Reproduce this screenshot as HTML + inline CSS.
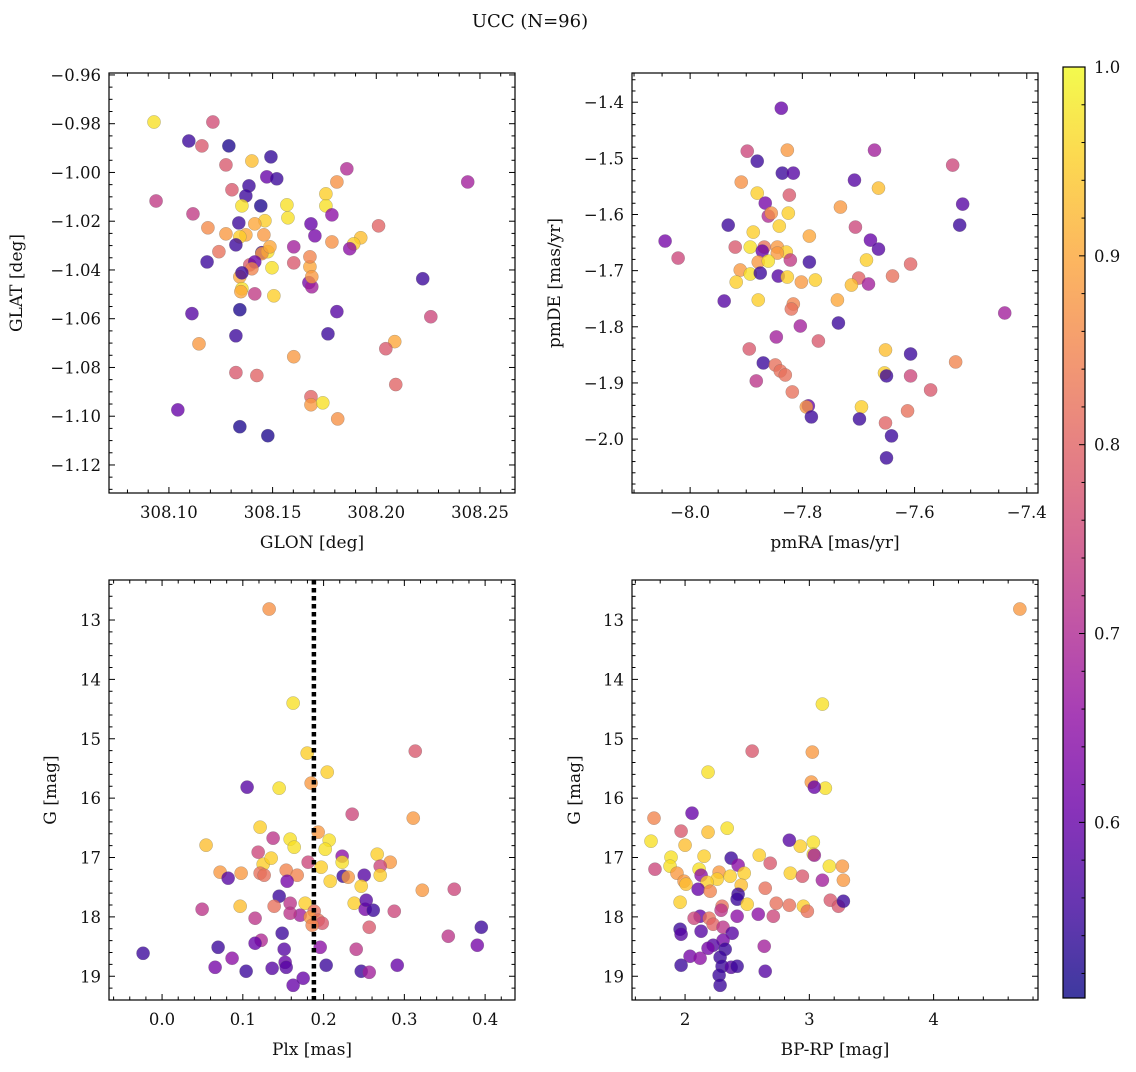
<!DOCTYPE html>
<html><head><meta charset="utf-8">
<style>
html,body{margin:0;padding:0;background:#fff;}
svg text{font-family:"DejaVu Serif","Liberation Serif",serif;fill:#111;}
</style></head>
<body>
<svg id="fig" width="1136" height="1067" xmlns="http://www.w3.org/2000/svg">
<defs>
<linearGradient id="plasma" x1="0" y1="1" x2="0" y2="0">
<stop offset="0" stop-color="#0d0887"/><stop offset="0.1" stop-color="#41049d"/><stop offset="0.2" stop-color="#6a00a8"/><stop offset="0.3" stop-color="#8f0da4"/><stop offset="0.4" stop-color="#b12a90"/><stop offset="0.5" stop-color="#cc4778"/><stop offset="0.6" stop-color="#e16462"/><stop offset="0.7" stop-color="#f2844b"/><stop offset="0.8" stop-color="#fca636"/><stop offset="0.9" stop-color="#fcce25"/><stop offset="1" stop-color="#f0f921"/>
</linearGradient>
</defs>
<text x="530" y="27" font-size="18" text-anchor="middle">UCC (N=96)</text>
</svg>
<script>
// ---- Panel 1: GLON vs GLAT ----
const glonX=[308.0928,308.1096,308.1159,308.1212,308.0938,308.1289,308.1275,308.1400,308.1492,308.1858,308.2441,308.1472,308.1520,308.1386,308.1810,308.1757,308.1304,308.1371,308.1116,308.1352,308.1443,308.1569,308.1574,308.1463,308.1757,308.1786,308.1685,308.1188,308.1275,308.1371,308.1414,308.1337,308.2011,308.1704,308.1458,308.1342,308.1323,308.1925,308.1891,308.1602,308.1872,308.1786,308.1184,308.1241,308.1448,308.1477,308.1448,308.1487,308.1390,308.1414,308.1602,308.1400,308.1680,308.1680,308.1497,308.1342,308.1352,308.1675,308.1689,308.1352,308.2224,308.1689,308.1347,308.1414,308.1506,308.1342,308.1810,308.1111,308.2263,308.1767,308.1323,308.1145,308.1602,308.2089,308.2046,308.1323,308.1424,308.2094,308.1043,308.1685,308.1685,308.1742,308.1814,308.1342,308.1477];
const glatY=[-0.9793,-0.9871,-0.9891,-0.9793,-1.0117,-0.9891,-0.9969,-0.9953,-0.9936,-0.9985,-1.0039,-1.0018,-1.0026,-1.0055,-1.0039,-1.0088,-1.0071,-1.0096,-1.0170,-1.0137,-1.0137,-1.0133,-1.0186,-1.0198,-1.0137,-1.0174,-1.0211,-1.0227,-1.0252,-1.0256,-1.0211,-1.0207,-1.0219,-1.0260,-1.0256,-1.0264,-1.0297,-1.0268,-1.0293,-1.0305,-1.0313,-1.0285,-1.0367,-1.0325,-1.0329,-1.0325,-1.0333,-1.0305,-1.0379,-1.0367,-1.0371,-1.0395,-1.0387,-1.0346,-1.0391,-1.0428,-1.0412,-1.0452,-1.0469,-1.0477,-1.0436,-1.0428,-1.0489,-1.0498,-1.0506,-1.0563,-1.0571,-1.0579,-1.0592,-1.0662,-1.0670,-1.0703,-1.0756,-1.0694,-1.0723,-1.0821,-1.0833,-1.0870,-1.0974,-1.0920,-1.0953,-1.0945,-1.1011,-1.1043,-1.1080];
const glatC=[0.97,0.55,0.78,0.76,0.73,0.52,0.78,0.93,0.54,0.7,0.68,0.6,0.55,0.55,0.87,0.95,0.78,0.55,0.73,0.97,0.52,0.97,0.97,0.95,0.97,0.65,0.6,0.86,0.88,0.9,0.9,0.55,0.8,0.62,0.88,0.95,0.55,0.93,0.95,0.68,0.65,0.87,0.55,0.82,0.55,0.97,0.88,0.9,0.78,0.6,0.78,0.85,0.9,0.85,0.97,0.9,0.55,0.62,0.68,0.97,0.55,0.88,0.9,0.73,0.95,0.52,0.58,0.58,0.75,0.55,0.55,0.88,0.88,0.9,0.78,0.78,0.8,0.8,0.6,0.8,0.88,0.97,0.87,0.52,0.52];
// ---- Panel 2: pmRA vs pmDE ----
const pmraX=[-8.0446,-8.0214,-7.8375,-7.8982,-7.8804,-7.8268,-7.8357,-7.8161,-7.9089,-7.8804,-7.8232,-7.7071,-7.6714,-7.6643,-7.5321,-7.5143,-7.5196,-7.7321,-7.8661,-7.8607,-7.8554,-7.8250,-7.8411,-7.9321,-7.8875,-7.7054,-7.6786,-7.7875,-7.9196,-7.8929,-7.8679,-7.8714,-7.8446,-7.8286,-7.8446,-7.6643,-7.8214,-7.8786,-7.8607,-7.9107,-7.8929,-7.9179,-7.8750,-7.8429,-7.8268,-7.7875,-7.8018,-7.7768,-7.6857,-7.6996,-7.7125,-7.6821,-7.6393,-7.6071,-7.9393,-7.8786,-7.8161,-7.8196,-7.7375,-7.7357,-7.8036,-7.4393,-7.8464,-7.7714,-7.8946,-7.6518,-7.6071,-7.5268,-7.8696,-7.8482,-7.8393,-7.8304,-7.6536,-7.6500,-7.6071,-7.8821,-7.8179,-7.5714,-7.7893,-7.7929,-7.6946,-7.6125,-7.7839,-7.6982,-7.6518,-7.6411,-7.6500];
const pmdeY=[-1.6473,-1.6776,-1.4107,-1.4872,-1.5050,-1.4854,-1.5263,-1.5263,-1.5423,-1.5619,-1.5655,-1.5388,-1.4854,-1.5530,-1.5121,-1.5815,-1.6189,-1.5868,-1.5797,-1.6028,-1.5975,-1.5975,-1.6206,-1.6189,-1.6313,-1.6224,-1.6456,-1.6384,-1.6580,-1.6580,-1.6580,-1.6651,-1.6580,-1.6669,-1.6687,-1.6616,-1.6811,-1.6847,-1.6829,-1.6989,-1.7060,-1.7203,-1.7043,-1.7096,-1.7114,-1.6847,-1.7203,-1.7167,-1.6811,-1.7132,-1.7256,-1.7238,-1.7096,-1.6883,-1.7541,-1.7523,-1.7594,-1.7683,-1.7523,-1.7932,-1.7986,-1.7754,-1.8181,-1.8253,-1.8395,-1.8413,-1.8484,-1.8626,-1.8644,-1.8680,-1.8786,-1.8858,-1.8822,-1.8875,-1.8875,-1.8964,-1.9160,-1.9125,-1.9409,-1.9427,-1.9427,-1.9498,-1.9605,-1.9641,-1.9712,-1.9943,-2.0335];
const pmdeC=[0.62,0.75,0.6,0.75,0.55,0.88,0.55,0.58,0.87,0.95,0.78,0.58,0.68,0.93,0.75,0.58,0.55,0.88,0.62,0.7,0.87,0.95,0.95,0.55,0.95,0.75,0.6,0.9,0.78,0.97,0.82,0.6,0.88,0.95,0.88,0.58,0.73,0.88,0.97,0.88,0.97,0.95,0.55,0.58,0.95,0.55,0.88,0.95,0.95,0.8,0.93,0.68,0.82,0.8,0.58,0.95,0.85,0.82,0.9,0.55,0.68,0.68,0.68,0.78,0.78,0.93,0.55,0.85,0.55,0.82,0.82,0.82,0.95,0.55,0.75,0.72,0.82,0.78,0.6,0.88,0.95,0.82,0.55,0.55,0.8,0.55,0.55];
// ---- Panel 3: Plx vs G ----
const plxX=[-0.0235,0.1326,0.1623,0.3135,0.1797,0.2045,0.1053,0.1450,0.1846,0.2354,0.3110,0.1214,0.0545,0.1586,0.1933,0.1636,0.2069,0.2020,0.1190,0.1375,0.2664,0.2230,0.2230,0.1809,0.1252,0.1351,0.2825,0.0719,0.0979,0.1214,0.1537,0.1673,0.1264,0.1970,0.0818,0.2243,0.2305,0.2503,0.2701,0.2701,0.1549,0.2082,0.2466,0.3222,0.3618,0.1450,0.0967,0.1388,0.0496,0.1586,0.1772,0.2379,0.1884,0.2515,0.2615,0.2528,0.1710,0.1834,0.1152,0.1586,0.1933,0.1983,0.2875,0.1859,0.2565,0.3953,0.1487,0.3544,0.1227,0.1152,0.1512,0.1958,0.2404,0.3903,0.0694,0.0867,0.0657,0.1041,0.1363,0.2032,0.1524,0.1537,0.2466,0.2565,0.2912,0.1747,0.1623];
const plxG=[18.613,12.815,14.399,15.208,15.242,15.562,15.815,15.832,15.747,16.270,16.337,16.489,16.792,16.691,16.573,16.826,16.708,16.860,16.910,16.674,16.944,16.978,17.079,17.079,17.113,17.011,17.079,17.247,17.264,17.264,17.214,17.298,17.298,17.163,17.348,17.315,17.332,17.298,17.146,17.298,17.399,17.399,17.483,17.551,17.534,17.652,17.821,17.821,17.871,17.770,17.770,17.770,17.905,17.871,17.888,17.719,17.972,18.006,18.023,17.939,18.056,18.107,17.905,18.141,18.175,18.175,18.276,18.326,18.394,18.444,18.545,18.512,18.545,18.478,18.512,18.697,18.849,18.916,18.866,18.815,18.765,18.849,18.916,18.933,18.815,19.034,19.152];
const plxC=[0.55,0.87,0.97,0.78,0.95,0.95,0.58,0.97,0.88,0.75,0.88,0.95,0.93,0.97,0.88,0.97,0.97,0.97,0.75,0.72,0.95,0.65,0.97,0.75,0.95,0.95,0.88,0.88,0.88,0.82,0.85,0.85,0.82,0.95,0.58,0.55,0.88,0.58,0.75,0.95,0.62,0.95,0.95,0.88,0.75,0.55,0.93,0.82,0.72,0.72,0.95,0.95,0.82,0.62,0.55,0.58,0.68,0.88,0.72,0.72,0.82,0.78,0.75,0.85,0.78,0.55,0.55,0.72,0.7,0.6,0.58,0.65,0.72,0.62,0.55,0.65,0.62,0.55,0.58,0.55,0.6,0.58,0.55,0.68,0.6,0.6,0.6];
const plxRef=[0.188];
// ---- Panel 4: BP-RP vs G ----
const bprpX=[4.694,3.105,2.540,3.024,2.185,3.016,3.129,3.040,2.056,2.339,2.185,1.750,1.968,1.726,2.000,3.032,2.927,3.032,2.839,3.040,1.887,2.153,2.371,2.597,2.427,2.685,3.161,3.266,1.758,1.879,1.935,2.113,2.129,2.274,2.476,2.258,2.363,2.847,2.944,3.105,1.992,2.177,2.008,2.452,3.274,2.105,2.202,2.427,2.645,1.960,2.419,2.500,2.298,2.734,2.839,2.952,3.169,3.234,3.274,2.984,2.290,2.121,2.419,2.589,2.710,2.073,2.194,2.226,2.306,1.960,2.129,1.968,2.379,2.306,2.226,2.185,2.323,2.637,2.040,2.282,2.121,1.968,2.298,2.371,2.419,2.274,2.645,2.282];
const bprpG=[12.815,14.416,15.208,15.225,15.562,15.730,15.832,15.815,16.253,16.506,16.573,16.337,16.556,16.725,16.792,16.742,16.809,16.944,16.708,16.961,16.995,16.978,17.011,16.961,17.129,17.096,17.146,17.146,17.197,17.146,17.264,17.197,17.298,17.247,17.264,17.365,17.315,17.264,17.315,17.382,17.399,17.416,17.449,17.466,17.382,17.534,17.568,17.618,17.517,17.753,17.702,17.787,17.821,17.770,17.804,17.821,17.719,17.821,17.736,17.905,17.888,17.989,17.989,17.955,17.989,18.023,18.023,18.124,18.175,18.208,18.242,18.292,18.276,18.394,18.478,18.529,18.545,18.495,18.663,18.680,18.697,18.815,18.832,18.849,18.832,18.983,18.916,19.152];
const bprpC=[0.88,0.97,0.78,0.88,0.97,0.88,0.97,0.6,0.6,0.97,0.93,0.85,0.78,0.97,0.93,0.97,0.95,0.97,0.58,0.68,0.97,0.95,0.55,0.95,0.65,0.78,0.97,0.88,0.75,0.97,0.88,0.97,0.65,0.88,0.95,0.95,0.95,0.95,0.78,0.68,0.88,0.95,0.93,0.93,0.88,0.6,0.85,0.55,0.82,0.95,0.55,0.95,0.82,0.82,0.82,0.95,0.78,0.78,0.55,0.82,0.72,0.6,0.65,0.65,0.75,0.75,0.82,0.8,0.72,0.55,0.58,0.58,0.58,0.62,0.58,0.62,0.55,0.68,0.62,0.55,0.65,0.55,0.55,0.58,0.55,0.55,0.58,0.55];
// ---- Colorbar ----
const cbTicks=[0.6,0.7,0.8,0.9,1.0];

const NS='http://www.w3.org/2000/svg';
const svg=document.getElementById('fig');
const CMIN=0.507,CMAX=1.0;
const stops=[[13,8,135],[65,4,157],[106,0,168],[143,13,164],[177,42,144],[204,71,120],[225,100,98],[242,132,75],[252,166,54],[252,206,37],[240,249,33]];
function plasma(c){let t=Math.max(0,Math.min(1,(c-CMIN)/(CMAX-CMIN)))*10;let i=Math.min(9,Math.floor(t));let f=t-i;const a=stops[i],b=stops[i+1];return 'rgb('+a.map((v,k)=>Math.round(v+(b[k]-v)*f)).join(',')+')';}
function mk(tag,attrs,parent){const e=document.createElementNS(NS,tag);for(const k in attrs)e.setAttribute(k,attrs[k]);(parent||svg).appendChild(e);return e;}
function fmt(v,d){const s=Math.abs(v).toFixed(d);return (v<-1e-9?'\u2212':'')+s;}

function panel(o){
  const g=mk('g',{});
  
  
  const sx=v=>o.x0+(v-o.xmin)/(o.xmax-o.xmin)*(o.x1-o.x0);
  const sy=o.yinv?(v=>o.y0+(v-o.ymin)/(o.ymax-o.ymin)*(o.y1-o.y0)):(v=>o.y1-(v-o.ymin)/(o.ymax-o.ymin)*(o.y1-o.y0));
  for(let i=0;i<o.xs.length;i++){
    const c=mk('circle',{cx:sx(o.xs[i]),cy:sy(o.ys[i]),r:6.6,fill:plasma(o.cs[i]),'fill-opacity':0.78,stroke:'#666','stroke-width':0.4,'stroke-opacity':0.6},g);
    
    
  }
  if(o.vline){for(const v of o.vline){const l=mk('line',{x1:sx(v),x2:sx(v),y1:o.y0,y2:o.y1,stroke:'#000','stroke-width':4.5,'stroke-dasharray':'4.5,3.5'},g);
    
    }}
  const fr=mk('rect',{x:o.x0,y:o.y0,width:o.x1-o.x0,height:o.y1-o.y0,fill:'none',stroke:'#000','stroke-width':1.2},g);
  
  
  const eps=1e-9;
  const xm=Math.ceil((o.xmin-eps)/o.xminor);
  for(let k=xm;k*o.xminor<=o.xmax+eps;k++){const v=k*o.xminor;const X=sx(v);
    const major=Math.abs(v/o.xmajor-Math.round(v/o.xmajor))<1e-6;const L=major?6:3.5;
    mk('line',{x1:X,x2:X,y1:o.y1,y2:o.y1-L,stroke:'#000','stroke-width':1},g);
    mk('line',{x1:X,x2:X,y1:o.y0,y2:o.y0+L,stroke:'#000','stroke-width':1},g);
    if(major){const t=mk('text',{x:X,y:o.y1+25,'font-size':16.5,'text-anchor':'middle'},g);t.textContent=fmt(v,o.xdec);
      
      }}
  const ym=Math.ceil((o.ymin-eps)/o.yminor);
  for(let k=ym;k*o.yminor<=o.ymax+eps;k++){const v=k*o.yminor;const Y=sy(v);
    const major=Math.abs(v/o.ymajor-Math.round(v/o.ymajor))<1e-6;const L=major?6:3.5;
    mk('line',{x1:o.x0,x2:o.x0+L,y1:Y,y2:Y,stroke:'#000','stroke-width':1},g);
    mk('line',{x1:o.x1,x2:o.x1-L,y1:Y,y2:Y,stroke:'#000','stroke-width':1},g);
    if(major){const t=mk('text',{x:o.x0-8,y:Y+6,'font-size':16.5,'text-anchor':'end'},g);t.textContent=fmt(v,o.ydec);
      
      }}
  const xl=mk('text',{x:(o.x0+o.x1)/2,y:o.y1+55,'font-size':17,'text-anchor':'middle'},g);xl.textContent=o.xlabel;
  
  
  const yc=(o.y0+o.y1)/2;
  const yl=mk('text',{x:o.ylx,y:yc,'font-size':17,'text-anchor':'middle',transform:'rotate(-90 '+o.ylx+' '+yc+')'},g);yl.textContent=o.ylabel;
  
  
}

panel({name:'glon-glat-panel',x0:109,x1:515,y0:73,y1:493,xmin:308.0711,xmax:308.2669,ymin:-1.1315,ymax:-0.9592,xmajor:0.05,xminor:0.01,ymajor:0.02,yminor:0.005,xdec:2,ydec:2,xs:glonX,ys:glatY,cs:glatC,xlabel:'GLON [deg]',ylabel:'GLAT [deg]',ylx:22});
panel({name:'pm-panel',x0:632,x1:1038,y0:73,y1:493,xmin:-8.1036,xmax:-7.380,ymin:-2.096,ymax:-1.348,xmajor:0.2,xminor:0.05,ymajor:0.1,yminor:0.02,xdec:1,ydec:1,xs:pmraX,ys:pmdeY,cs:pmdeC,xlabel:'pmRA [mas/yr]',ylabel:'pmDE [mas/yr]',ylx:560});
panel({name:'plx-g-panel',x0:109,x1:515,y0:580,y1:1000,xmin:-0.0657,xmax:0.437,ymin:12.326,ymax:19.40,yinv:true,xmajor:0.1,xminor:0.02,ymajor:1,yminor:0.2,xdec:1,ydec:0,xs:plxX,ys:plxG,cs:plxC,vline:plxRef,xlabel:'Plx [mas]',ylabel:'G [mag]',ylx:56});
panel({name:'cmd-panel',x0:632,x1:1038,y0:580,y1:1000,xmin:1.573,xmax:4.84,ymin:12.326,ymax:19.40,yinv:true,xmajor:1,xminor:0.2,ymajor:1,yminor:0.2,xdec:0,ydec:0,xs:bprpX,ys:bprpG,cs:bprpC,xlabel:'BP-RP [mag]',ylabel:'G [mag]',ylx:580});

const cbg=mk('g',{});


const cb0=67,cb1=998;
mk('rect',{x:1063,y:cb0,width:22,height:cb1-cb0,fill:'url(#plasma)','fill-opacity':0.8},cbg);
mk('rect',{x:1063,y:cb0,width:22,height:cb1-cb0,fill:'none',stroke:'#000','stroke-width':1.2},cbg);
const cy=v=>cb1-(v-CMIN)/(CMAX-CMIN)*(cb1-cb0);
for(let k=26;k<=50;k++){const v=k*0.02;if(v<CMIN)continue;const Y=cy(v);const major=k%5===0;
  mk('line',{x1:1085,x2:1085-(major?6:3.5),y1:Y,y2:Y,stroke:'#000','stroke-width':1},cbg);}
for(const v of cbTicks){const t=mk('text',{x:1094,y:cy(v)+6,'font-size':16.5},cbg);t.textContent=v.toFixed(1);
  
  }
</script>
</body></html>
